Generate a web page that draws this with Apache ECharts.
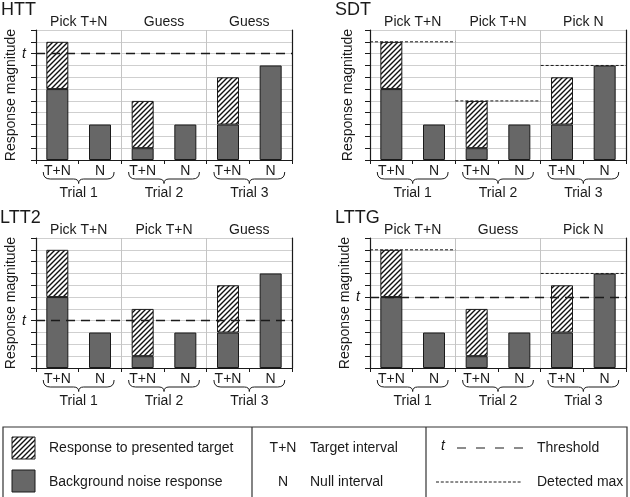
<!DOCTYPE html>
<html><head><meta charset="utf-8">
<script src="https://cdn.jsdelivr.net/npm/echarts@6/dist/echarts.min.js"></script>
<style>html,body{margin:0;padding:0;background:#fff}#c{width:630px;height:497px}</style>
</head><body><div id="c"></div>
<script>
// ---- data ----
const intervals = ['T+N', 'N', 'T+N', 'N', 'T+N', 'N'];
const trials = ['Trial 1', 'Trial 2', 'Trial 3'];
const noiseResp = [6, 3, 1, 3, 3, 8];
const targetResp = [4, '-', 4, '-', 4, '-'];
const panelNames = ['HTT', 'SDT', 'LTT2', 'LTTG'];
const decisionsHTT = ['Pick T+N', 'Guess', 'Guess'];
const decisionsSDT = ['Pick T+N', 'Pick T+N', 'Pick N'];
const decisionsLTT2 = ['Pick T+N', 'Pick T+N', 'Guess'];
const decisionsLTTG = ['Pick T+N', 'Guess', 'Pick N'];
const thresholds = [9, null, 4, 6];
const detectedHTT = [null, null, null];
const detectedSDT = [10, 5, 8];
const detectedLTT2 = [null, null, null];
const detectedLTTG = [10, null, 8];
const yMin = 0, yMax = 11, yStep = 1;

const decisions = [decisionsHTT, decisionsSDT, decisionsLTT2, decisionsLTTG];
const detected = [detectedHTT, detectedSDT, detectedLTT2, detectedLTTG];

// ---- hatch pattern ----
function makeHatch() {
  const s = 5;
  const cv = document.createElement('canvas');
  cv.width = s; cv.height = s;
  const ctx = cv.getContext('2d');
  ctx.fillStyle = '#ffffff';
  ctx.fillRect(0, 0, s, s);
  ctx.strokeStyle = '#111111';
  ctx.lineWidth = 1.4;
  ctx.beginPath();
  ctx.moveTo(-1, 1); ctx.lineTo(1, -1);
  ctx.moveTo(0, s); ctx.lineTo(s, 0);
  ctx.moveTo(s - 1, s + 1); ctx.lineTo(s + 1, s - 1);
  ctx.stroke();
  return cv;
}
const hatch = { image: makeHatch(), repeat: 'repeat' };
const GRAY = '#676767';
const INK = '#1a1a1a';
const FONT = 'Liberation Sans, Arial, Helvetica, sans-serif';

const gridPos = [
  { left: 36, top: 30 }, { left: 370, top: 30 },
  { left: 36, top: 238 }, { left: 370, top: 238 }
];
const titlePos = [
  { left: 1, top: 1 }, { left: 335, top: 1 },
  { left: 0, top: 209 }, { left: 335, top: 209 }
];

const grids = [], xAxes = [], yAxes = [], series = [], titles = [];

gridPos.forEach((p, g) => {
  grids.push({ left: p.left, top: p.top, width: 256, height: 130, containLabel: false });
  titles.push({ text: panelNames[g], left: titlePos[g].left, top: titlePos[g].top, padding: 0,
    textStyle: { fontSize: 18, fontWeight: 'normal', color: INK, fontFamily: FONT } });
  // interval axis
  xAxes.push({ type: 'category', gridIndex: g, data: intervals, position: 'bottom',
    axisLine: { lineStyle: { color: INK, width: 1.2 } },
    axisTick: { show: true, length: 4, lineStyle: { color: INK } },
    axisLabel: { color: INK, fontSize: 14, margin: 4, fontFamily: FONT, interval: 0 },
    splitLine: { show: false } });
  // trial axis
  xAxes.push({ type: 'category', gridIndex: g, data: trials, position: 'bottom',
    axisLine: { show: false }, axisTick: { show: false },
    axisLabel: { color: INK, fontSize: 14, margin: 26, fontFamily: FONT, interval: 0 },
    splitLine: { show: true, interval: 0, lineStyle: { color: '#c4c4c4', width: 1 } } });
  // decision axis (top)
  xAxes.push({ type: 'category', gridIndex: g, data: ['0', '1', '2'], position: 'top',
    axisLine: { show: false }, axisTick: { show: false },
    axisLabel: { color: INK, fontSize: 14, margin: 1, fontFamily: FONT, interval: 0,
      formatter: (v, i) => decisions[g][i] } });
  const thr = thresholds[g];
  yAxes.push({ type: 'value', gridIndex: g, min: yMin, max: yMax, interval: yStep, position: 'left',
    name: 'Response magnitude', nameLocation: 'middle', nameGap: 15,
    nameTextStyle: { fontSize: 14, color: INK, fontFamily: FONT },
    axisLine: { show: true, lineStyle: { color: INK, width: 1.2 } },
    axisTick: { show: true, length: 5, lineStyle: { color: INK } },
    axisLabel: { show: true, margin: 10, fontSize: 14, fontStyle: 'italic', color: INK, fontFamily: FONT,
      formatter: v => (thr !== null && v === thr) ? 't' : '' },
    splitLine: { show: true, lineStyle: { color: '#cfcfcf', width: 1 } } });
  yAxes.push({ type: 'value', gridIndex: g, min: yMin, max: yMax, interval: yStep, position: 'right',
    axisLine: { show: true, lineStyle: { color: INK, width: 1.2 } },
    axisTick: { show: false }, axisLabel: { show: false }, splitLine: { show: false } });

  const xi = 3 * g, yi = 2 * g;
  series.push({ type: 'bar', xAxisIndex: xi, yAxisIndex: yi, stack: 's' + g, data: noiseResp,
    barWidth: 22, itemStyle: { color: GRAY, borderColor: INK, borderWidth: 1 }, z: 2, silent: true });
  const tgt = { type: 'bar', xAxisIndex: xi, yAxisIndex: yi, stack: 's' + g, data: targetResp,
    barWidth: 22, itemStyle: { color: hatch, borderColor: INK, borderWidth: 1 }, z: 2, silent: true };
  if (thr !== null) {
    tgt.markLine = { silent: true, symbol: 'none', z: 5, label: { show: false },
      lineStyle: { type: [9, 6], color: INK, width: 1.3 }, data: [{ yAxis: thr }] };
  }
  series.push(tgt);
  // detected max lines (per trial band)
  const dm = detected[g].map((v, i) => [i, v]).filter(d => d[1] !== null);
  if (dm.length) {
    series.push({ type: 'custom', xAxisIndex: xi + 1, yAxisIndex: yi, data: dm, z: 6, silent: true,
      encode: { x: 0, y: 1 },
      renderItem: (params, api) => {
        const c = api.coord([api.value(0), api.value(1)]);
        const w = api.size([1, 0])[0];
        return { type: 'line', shape: { x1: c[0] - w / 2, y1: c[1], x2: c[0] + w / 2, y2: c[1] },
          style: { stroke: INK, lineWidth: 1, lineDash: [3, 2] } };
      } });
  }
  // braces under each trial
  series.push({ type: 'custom', xAxisIndex: xi + 1, yAxisIndex: yi, data: trials.map((t, i) => [i, 0]),
    z: 6, silent: true, clip: false, encode: { x: 0, y: 1 },
    renderItem: (params, api) => {
      const c = api.coord([api.value(0), 0]);
      const hw = api.size([1, 0])[0] * 0.415;
      const x0 = c[0] - hw, x1 = c[0] + hw, cx = c[0];
      const y0 = c[1] + 12, yh = c[1] + 19, yt = c[1] + 23.5;
      const d = `M${x0} ${y0} Q${x0} ${yh} ${x0 + 7} ${yh} L${cx - 5} ${yh} Q${cx} ${yh} ${cx} ${yt} ` +
        `Q${cx} ${yh} ${cx + 5} ${yh} L${x1 - 7} ${yh} Q${x1} ${yh} ${x1} ${y0}`;
      return { type: 'path', shape: { pathData: d }, style: { fill: 'none', stroke: INK, lineWidth: 1 } };
    } });
});

// ---- legend box ----
const txt = (x, y, s, extra) => Object.assign({ type: 'text', x: x, y: y,
  style: { text: s, fontSize: 14, fill: INK, fontFamily: FONT, verticalAlign: 'middle' } }, extra || {});
const graphic = [
  { type: 'rect', shape: { x: 3, y: 427, width: 624, height: 74 }, style: { fill: 'none', stroke: '#333', lineWidth: 1.2 } },
  { type: 'line', shape: { x1: 252, y1: 427, x2: 252, y2: 497 }, style: { stroke: '#333', lineWidth: 1.2 } },
  { type: 'line', shape: { x1: 426, y1: 427, x2: 426, y2: 497 }, style: { stroke: '#333', lineWidth: 1.2 } },
  { type: 'rect', shape: { x: 12, y: 437, width: 23, height: 22 }, style: { fill: hatch, stroke: INK, lineWidth: 1 } },
  { type: 'rect', shape: { x: 12, y: 470, width: 23, height: 22 }, style: { fill: GRAY, stroke: INK, lineWidth: 1 } },
  txt(49, 448, 'Response to presented target'),
  txt(49, 482, 'Background noise response'),
  { type: 'text', x: 283, y: 448, style: { text: 'T+N', fontSize: 14, fill: INK, fontFamily: FONT, align: 'center', verticalAlign: 'middle' } },
  { type: 'text', x: 283, y: 482, style: { text: 'N', fontSize: 14, fill: INK, fontFamily: FONT, align: 'center', verticalAlign: 'middle' } },
  txt(310, 448, 'Target interval'),
  txt(310, 482, 'Null interval'),
  { type: 'text', x: 441, y: 446, style: { text: 't', fontSize: 14, fontStyle: 'italic', fill: INK, fontFamily: FONT, verticalAlign: 'middle' } },
  { type: 'line', shape: { x1: 457, y1: 448, x2: 524, y2: 448 }, style: { stroke: INK, lineWidth: 1.2, lineDash: [9, 10] } },
  { type: 'line', shape: { x1: 436, y1: 482, x2: 522, y2: 482 }, style: { stroke: INK, lineWidth: 1, lineDash: [3, 1.8] } },
  txt(537, 448, 'Threshold'),
  txt(537, 482, 'Detected max')
];

const chart = echarts.init(document.getElementById('c'), null, { renderer: 'canvas' });
chart.setOption({
  animation: false,
  backgroundColor: '#ffffff',
  textStyle: { fontFamily: FONT },
  title: titles,
  grid: grids,
  xAxis: xAxes,
  yAxis: yAxes,
  series: series,
  graphic: graphic
});
</script></body></html>
